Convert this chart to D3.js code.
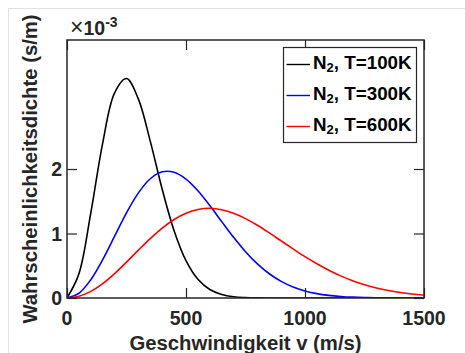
<!DOCTYPE html>
<html>
<head>
<meta charset="utf-8">
<script src="https://cdn.jsdelivr.net/npm/d3@7"></script>
<style>
  html, body { margin: 0; padding: 0; background: #fff; }
  svg { display: block; font-family: "Liberation Sans", Arial, Helvetica, sans-serif; }
</style>
</head>
<body>
<svg id="chart" width="465" height="353"></svg>
<script>
// speeds in m/s
const speeds = [0, 50, 100, 150, 200, 250, 300, 350, 400, 450, 500, 550, 600, 650, 700, 750,
  800, 850, 900, 950, 1000, 1050, 1100, 1150, 1200, 1250, 1300, 1350, 1400, 1450, 1500]

// probability density, in units of 1e-3 s/m
const dens100 = [0, 0.374, 1.318, 2.402, 3.180, 3.402, 3.083, 2.428, 1.687, 1.044, 0.579, 0.290,
  0.131, 0.054, 0.020, 0.007, 0.002, 0, 0, 0, 0, 0, 0, 0, 0, 0, 0, 0, 0, 0, 0]
const dens300 = [0, 0.074, 0.284, 0.595, 0.959, 1.321, 1.630, 1.849, 1.956, 1.950, 1.844, 1.662,
  1.433, 1.184, 0.940, 0.718, 0.529, 0.376, 0.258, 0.171, 0.110, 0.068, 0.041, 0.024, 0.013,
  0.007, 0.004, 0.002, 0.001, 0, 0]
const dens600 = [0, 0.026, 0.103, 0.224, 0.379, 0.556, 0.742, 0.921, 1.083, 1.217, 1.315, 1.373,
  1.391, 1.369, 1.314, 1.231, 1.127, 1.009, 0.885, 0.761, 0.641, 0.530, 0.431, 0.343, 0.269,
  0.207, 0.156, 0.116, 0.085, 0.061, 0.043]

const seriesNames = ["T=100K", "T=300K", "T=600K"]
const seriesColors = ["#000000", "#0000ff", "#ff0000"]
const xTicks = [0, 500, 1000, 1500]
const yTicks = [0, 1, 2]

const svg = d3.select("#chart")
const axisColor = "#262626"

// light figure frame
svg.append("line").attr("x1", 8).attr("x2", 465).attr("y1", 8.5).attr("y2", 8.5)
  .attr("stroke", "#e2e2e2")
svg.append("line").attr("x1", 8.5).attr("x2", 8.5).attr("y1", 8).attr("y2", 353)
  .attr("stroke", "#e2e2e2")

const box = { left: 67, right: 424, top: 40, bottom: 298 }
const x = d3.scaleLinear().domain([0, 1500]).range([box.left, box.right])
const y = d3.scaleLinear().domain([0, 4]).range([box.bottom, box.top])

const series = [dens100, dens300, dens600]

const line = d3.line()
  .x((d, i) => x(speeds[i]))
  .y(d => y(d))
  .curve(d3.curveCatmullRom.alpha(0.5))

svg.append("defs").append("clipPath").attr("id", "clip")
  .append("rect").attr("x", box.left).attr("y", box.top)
  .attr("width", box.right - box.left).attr("height", box.bottom - box.top)

svg.append("g").attr("clip-path", "url(#clip)")
  .selectAll("path")
  .data(series)
  .join("path")
  .attr("d", d => line(d))
  .attr("fill", "none")
  .attr("stroke", (d, i) => seriesColors[i])
  .attr("stroke-width", 1.6)

// axes with mirrored inward ticks
const tickLen = 10
const xAxisB = d3.axisBottom(x).tickValues(xTicks).tickSizeInner(-tickLen).tickSizeOuter(0).tickFormat("")
const xAxisT = d3.axisTop(x).tickValues(xTicks).tickSizeInner(-tickLen).tickSizeOuter(0).tickFormat("")
const yAxisL = d3.axisLeft(y).tickValues(yTicks).tickSizeInner(-tickLen).tickSizeOuter(0).tickFormat("")
const yAxisR = d3.axisRight(y).tickValues(yTicks).tickSizeInner(-tickLen).tickSizeOuter(0).tickFormat("")

function styleAxis(g) {
  g.selectAll("line").attr("stroke", axisColor).attr("stroke-width", 1.2)
  g.select(".domain").remove()
}
svg.append("g").attr("transform", `translate(0,${box.bottom})`).call(xAxisB).call(styleAxis)
svg.append("g").attr("transform", `translate(0,${box.top})`).call(xAxisT).call(styleAxis)
svg.append("g").attr("transform", `translate(${box.left},0)`).call(yAxisL).call(styleAxis)
svg.append("g").attr("transform", `translate(${box.right},0)`).call(yAxisR).call(styleAxis)

svg.append("rect")
  .attr("x", box.left).attr("y", box.top)
  .attr("width", box.right - box.left).attr("height", box.bottom - box.top)
  .attr("fill", "none").attr("stroke", axisColor).attr("stroke-width", 1.5)

// tick labels
svg.append("g").selectAll("text").data(xTicks).join("text")
  .attr("x", d => x(d)).attr("y", 325)
  .attr("text-anchor", "middle")
  .attr("font-size", 19.5).attr("font-weight", "bold").attr("fill", axisColor)
  .text(d => d)

svg.append("g").selectAll("text").data(yTicks).join("text")
  .attr("x", 62).attr("y", d => y(d) + 7)
  .attr("text-anchor", "end")
  .attr("font-size", 19.5).attr("font-weight", "bold").attr("fill", axisColor)
  .text(d => d)

// exponent
const expo = svg.append("text").attr("x", 70).attr("y", 35).attr("fill", axisColor)
expo.append("tspan").attr("font-size", 23).text("\u00d7")
expo.append("tspan").attr("font-size", 19.5).attr("font-weight", "bold").text("10")
expo.append("tspan").attr("font-size", 14).attr("font-weight", "bold").attr("dy", -8).text("-3")

// axis labels
svg.append("text")
  .attr("x", (box.left + box.right) / 2).attr("y", 349.5)
  .attr("text-anchor", "middle")
  .attr("font-size", 20.3).attr("font-weight", "bold").attr("fill", axisColor)
  .text("Geschwindigkeit v (m/s)")

svg.append("text")
  .attr("transform", `translate(37,${(box.top + box.bottom) / 2}) rotate(-90)`)
  .attr("text-anchor", "middle")
  .attr("font-size", 20.3).attr("font-weight", "bold").attr("fill", axisColor)
  .text("Wahrscheinlichkeitsdichte (s/m)")

// legend
const legend = svg.append("g")
legend.append("rect")
  .attr("x", 283.5).attr("y", 47.5).attr("width", 133).attr("height", 95)
  .attr("fill", "#fff").attr("stroke", axisColor).attr("stroke-width", 1.2)

seriesNames.forEach((name, i) => {
  const ly = 64.5 + i * 31
  legend.append("line")
    .attr("x1", 286.5).attr("x2", 310).attr("y1", ly).attr("y2", ly)
    .attr("stroke", seriesColors[i]).attr("stroke-width", 1.4)
  const t = legend.append("text").attr("x", 313).attr("y", ly + 4)
    .attr("font-weight", "bold").attr("fill", "#000")
  t.append("tspan").attr("font-size", 18.8).text("N")
  t.append("tspan").attr("font-size", 13).attr("dy", 3).text("2")
  t.append("tspan").attr("font-size", 18.8).attr("dy", -3).text(", " + name)
})
</script>
</body>
</html>
